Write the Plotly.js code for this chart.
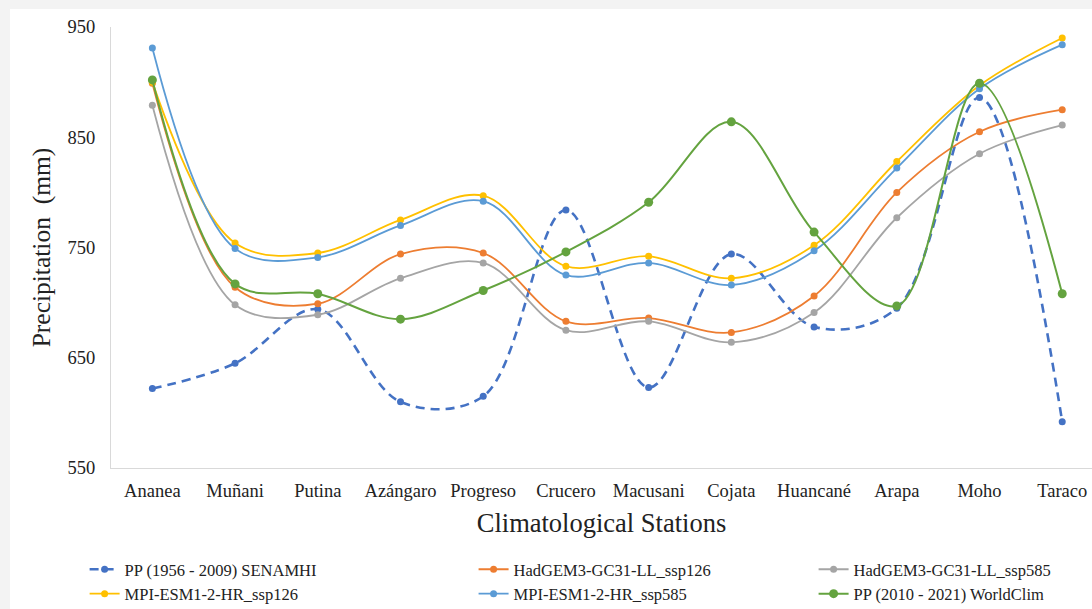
<!DOCTYPE html>
<html>
<head>
<meta charset="utf-8">
<script src="https://cdn.plot.ly/plotly-3.0.1.min.js"></script>
<style>
  html, body { margin: 0; padding: 0; background: #f3f3f3; width: 1092px; height: 609px; overflow: hidden; }
  #chart { position: absolute; left: 10px; top: 9px; width: 1082px; height: 620px; background: #ffffff; }
</style>
</head>
<body>
<div id="chart"></div>
<script>
const stations = ["Ananea", "Muñani", "Putina", "Azángaro", "Progreso", "Crucero", "Macusani", "Cojata", "Huancané", "Arapa", "Moho", "Taraco"];

const senamhi   = [622, 645, 694, 610, 615, 784, 623, 744, 678, 695, 886, 592];
const had126    = [899, 714, 699, 744, 745, 683, 686, 673, 706, 800, 855, 875];
const had585    = [879, 698, 689, 722, 736, 675, 683, 664, 691, 777, 835, 861];
const mpi126    = [900, 754, 745, 775, 797, 733, 742, 722, 752, 828, 897, 940];
const mpi585    = [931, 749, 741, 770, 792, 725, 736, 716, 747, 822, 894, 934];
const worldclim = [902, 717, 708, 685, 711, 746, 791, 864, 764, 697, 899, 708];

const yTicks = [550, 650, 750, 850, 950];

const serif = "Liberation Serif, Times New Roman, serif";

function tr(name, y, color, opts) {
  opts = opts || {};
  return {
    type: "scatter",
    mode: "lines+markers",
    name: name,
    x: stations,
    y: y,
    legend: opts.legend || "legend",
    line: { color: color, width: opts.width || 1.8, shape: "spline", smoothing: 1, dash: opts.dash || "solid" },
    marker: { color: color, size: opts.msize || 7 },
    cliponaxis: false
  };
}

const data = [
  tr("PP (1956 - 2009) SENAMHI", senamhi, "#4472C4", { dash: "9px,6px", width: 2.6, legend: "legend" }),
  tr("HadGEM3-GC31-LL_ssp126", had126, "#ED7D31", { legend: "legend2" }),
  tr("HadGEM3-GC31-LL_ssp585", had585, "#A5A5A5", { legend: "legend3" }),
  tr("MPI-ESM1-2-HR_ssp126", mpi126, "#FFC000", { legend: "legend" }),
  tr("MPI-ESM1-2-HR_ssp585", mpi585, "#5B9BD5", { legend: "legend2" }),
  tr("PP (2010 - 2021) WorldClim", worldclim, "#64A33F", { legend: "legend3", msize: 9, width: 2 })
];

const legendBase = {
  orientation: "v",
  xanchor: "left",
  yanchor: "top",
  y: -0.1905,
  bgcolor: "rgba(0,0,0,0)",
  font: { family: serif, size: 16.5, color: "#222" },
  tracegroupgap: 0,
  itemwidth: 30
};

const layout = {
  width: 1082,
  height: 620,
  paper_bgcolor: "#ffffff",
  plot_bgcolor: "#ffffff",
  margin: { l: 101, r: 0, t: 18, b: 161, pad: 0 },
  showlegend: true,
  font: { family: serif, color: "#222" },
  xaxis: {
    type: "category",
    range: [-0.5, 11.36],
    showgrid: false,
    zeroline: false,
    showline: true,
    linecolor: "#d9d9d9",
    linewidth: 1,
    ticks: "",
    ticklabelstandoff: 6,
    tickfont: { family: serif, size: 18.5, color: "#222" },
    title: { text: "Climatological Stations", font: { family: serif, size: 26.5, color: "#222" }, standoff: 13 },
    automargin: false
  },
  yaxis: {
    range: [550, 950],
    tickvals: yTicks,
    ticktext: yTicks.map(String),
    showgrid: false,
    zeroline: false,
    showline: true,
    linecolor: "#d9d9d9",
    linewidth: 1,
    ticks: "",
    ticklabelstandoff: 11,
    tickfont: { family: serif, size: 18.5, color: "#222" },
    title: { text: "Precipitation  (mm)", font: { family: serif, size: 25.5, color: "#222" }, standoff: 9 },
    automargin: false
  },
  legend: Object.assign({}, legendBase, { x: -0.0269 }),
  legend2: Object.assign({}, legendBase, { x: 0.3696 }),
  legend3: Object.assign({}, legendBase, { x: 0.7162 })
};

Plotly.newPlot("chart", data, layout, { displayModeBar: false, staticPlot: true });
</script>
</body>
</html>
